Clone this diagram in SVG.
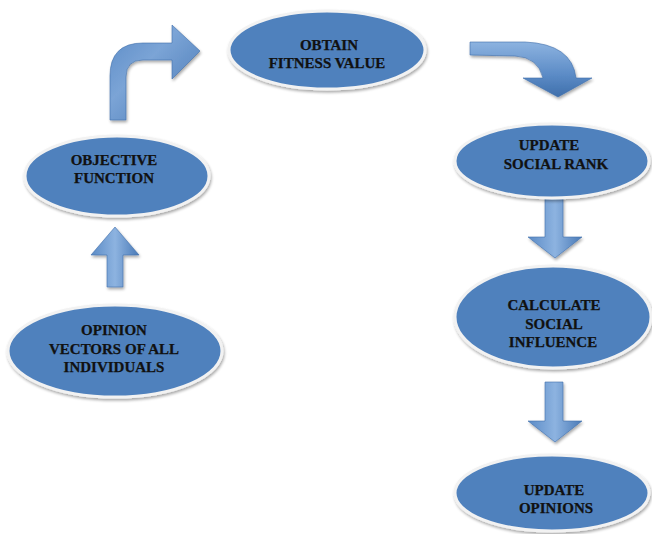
<svg xmlns="http://www.w3.org/2000/svg" width="652" height="534" viewBox="0 0 652 534">
<defs>
  <linearGradient id="agV" x1="0" y1="0" x2="1" y2="0">
    <stop offset="0" stop-color="#5b8bc6"/>
    <stop offset="0.5" stop-color="#8db3e0"/>
    <stop offset="1" stop-color="#4a7ab7"/>
  </linearGradient>
  <linearGradient id="agH" x1="0" y1="0" x2="0" y2="1">
    <stop offset="0" stop-color="#8db3e0"/>
    <stop offset="0.6" stop-color="#5b8bc6"/>
    <stop offset="1" stop-color="#3f6fab"/>
  </linearGradient>
  <linearGradient id="agB" x1="0" y1="0" x2="1" y2="1">
    <stop offset="0" stop-color="#5b8bc6"/>
    <stop offset="0.4" stop-color="#7ba4d6"/>
    <stop offset="1" stop-color="#4576b3"/>
  </linearGradient>
  <filter id="sh" x="-10%" y="-10%" width="120%" height="130%">
    <feGaussianBlur in="SourceAlpha" stdDeviation="1.5"/>
    <feOffset dx="1" dy="2" result="b"/>
    <feComponentTransfer><feFuncA type="linear" slope="0.35"/></feComponentTransfer>
    <feMerge><feMergeNode/><feMergeNode in="SourceGraphic"/></feMerge>
  </filter>
</defs>
<style>
  .node ellipse { fill: #4f81bd; stroke: #f2f2f2; stroke-width: 3; filter: url(#sh); }
  .node text { font-family: "Liberation Serif", "DejaVu Serif", serif; font-weight: bold; font-size: 15px; fill: #111; stroke: #111; stroke-width: 0.25; text-anchor: middle; }
  .arr { stroke: #3f6fab; stroke-width: 0.6; filter: url(#sh); }
</style>
<rect width="652" height="534" fill="#ffffff"/>

<g id="connectors">
  <path class="arr" fill="url(#agV)" d="M107,287 L107,255 L91,255 L115,227 L139,255 L123,255 L123,287 Z"/>
  <path class="arr" fill="url(#agB)" d="M110,120 L110,76 Q110,43 143,43 L172,43 L172,25 L200,51 L172,79 L172,60 L143,60 Q126,60 126,77 L126,120 Z"/>
  <path class="arr" fill="url(#agH)" d="M470,42 L525,42 Q572,44 576,78 L592,78 L558,97 L523,78 L543,78 Q538,57 515,56 L470,55 Z"/>
  <path class="arr" fill="url(#agV)" d="M545,197 L563,197 L563,237 L582,237 L555,258 L528,237 L545,237 Z"/>
  <path class="arr" fill="url(#agV)" d="M545,382 L563,382 L563,421 L582,421 L555,442 L528,421 L545,421 Z"/>
</g>

<g id="opinion-vectors" class="node">
  <ellipse cx="115" cy="351" rx="107" ry="46"/>
  <text x="114" y="335" font-family="Liberation Serif">OPINION</text>
  <text x="114" y="354" font-family="Liberation Serif">VECTORS OF ALL</text>
  <text x="114" y="372" font-family="Liberation Serif">INDIVIDUALS</text>
</g>

<g id="objective-function" class="node">
  <ellipse cx="117" cy="176" rx="92" ry="40"/>
  <text x="114" y="165">OBJECTIVE</text>
  <text x="114" y="183">FUNCTION</text>
</g>

<g id="obtain-fitness" class="node">
  <ellipse cx="327" cy="50" rx="98" ry="39"/>
  <text x="329" y="50">OBTAIN</text>
  <text x="327" y="68">FITNESS VALUE</text>
</g>

<g id="update-social-rank" class="node">
  <ellipse cx="552" cy="161" rx="97" ry="37"/>
  <text x="549" y="150">UPDATE</text>
  <text x="556" y="169">SOCIAL RANK</text>
</g>

<g id="calculate-social-influence" class="node">
  <ellipse cx="553" cy="317" rx="98" ry="51"/>
  <text x="554" y="310">CALCULATE</text>
  <text x="554" y="329">SOCIAL</text>
  <text x="553" y="347">INFLUENCE</text>
</g>

<g id="update-opinions" class="node">
  <ellipse cx="552" cy="493" rx="97" ry="38"/>
  <text x="554" y="495">UPDATE</text>
  <text x="556" y="513">OPINIONS</text>
</g>
</svg>
